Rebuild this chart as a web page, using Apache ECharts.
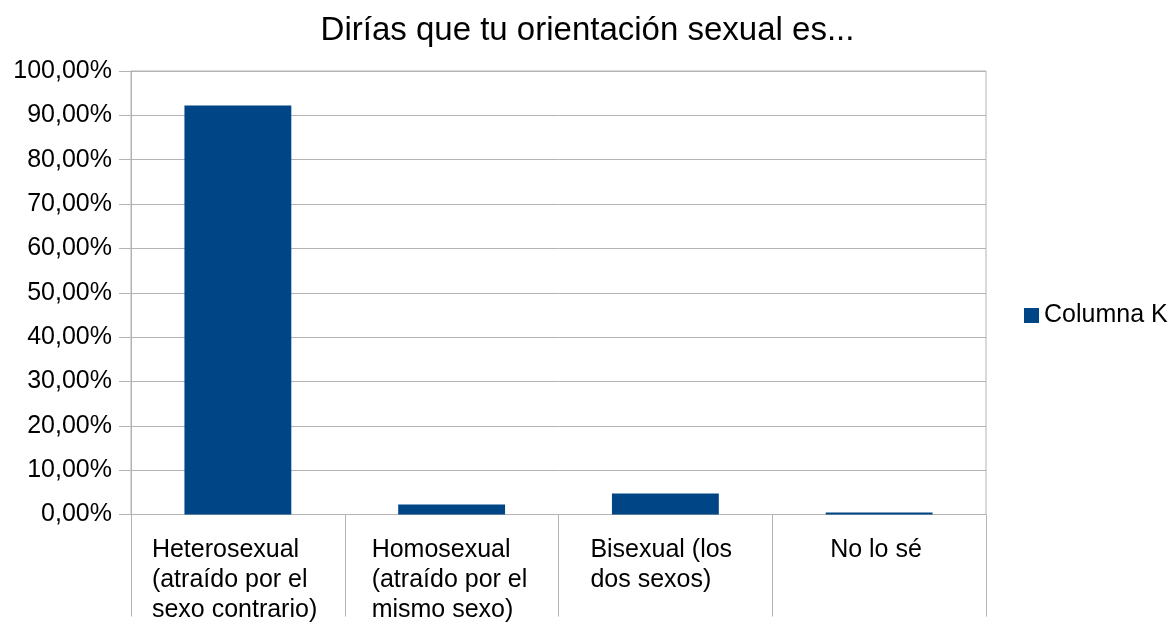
<!DOCTYPE html>
<html>
<head>
<meta charset="utf-8">
<script src="https://cdn.jsdelivr.net/npm/echarts@6/dist/echarts.min.js"></script>
<style>
html,body{margin:0;padding:0;background:#fff;}
#chart{width:1175px;height:623px;}
</style>
</head>
<body>
<div id="chart"></div>
<script>
var categories = [
    ['Heterosexual', '(atraído por el', 'sexo contrario)'],
    ['Homosexual', '(atraído por el', 'mismo sexo)'],
    ['Bisexual (los', 'dos sexos)'],
    ['No lo sé']
];
var values = [0.922, 0.0225, 0.0473, 0.0045];
var yTicks = [0, 0.1, 0.2, 0.3, 0.4, 0.5, 0.6, 0.7, 0.8, 0.9, 1];

// label block widths so lines stay left aligned inside a centred block
var labelWidths = [172, 160, 150, 98];
var rich = {};
labelWidths.forEach(function (w, i) {
    rich['r' + i] = {width: w, align: 'left', fontSize: 25, lineHeight: 30, color: '#000', fontFamily: 'Liberation Sans'};
});

var chart = echarts.init(document.getElementById('chart'));
chart.setOption({
    backgroundColor: '#fff',
    animation: false,
    title: {
        text: 'Dirías que tu orientación sexual es...',
        left: 'center',
        top: 9,
        textStyle: {fontFamily: 'Liberation Sans', fontSize: 33, fontWeight: 'normal', color: '#000'}
    },
    legend: {
        data: ['Columna K'],
        left: 1019,
        top: 298,
        icon: 'rect',
        itemWidth: 15,
        itemHeight: 15,
        itemGap: 8,
        textStyle: {fontFamily: 'Liberation Sans', fontSize: 25, color: '#000'}
    },
    grid: {
        left: 131, right: 189, top: 71, bottom: 108,
        show: true, borderColor: '#b3b3b3', borderWidth: 1
    },
    xAxis: {
        type: 'category',
        data: categories.map(function (c) { return c.join('\n'); }),
        boundaryGap: true,
        axisLine: {lineStyle: {color: '#b3b3b3'}},
        axisTick: {show: true, length: 102, lineStyle: {color: '#b3b3b3'}},
        axisLabel: {
            interval: 0,
            margin: 21,
            formatter: function (v, i) {
                return v.split('\n').map(function (s) { return '{r' + i + '|' + s + '}'; }).join('\n');
            },
            rich: rich
        }
    },
    yAxis: {
        type: 'value',
        min: yTicks[0],
        max: yTicks[yTicks.length - 1],
        interval: 0.1,
        axisLine: {show: true, lineStyle: {color: '#b3b3b3'}},
        axisTick: {show: true, length: 12, lineStyle: {color: '#b3b3b3'}},
        splitLine: {lineStyle: {color: '#b3b3b3'}},
        axisLabel: {
            margin: 19,
            fontFamily: 'Liberation Sans',
            fontSize: 25,
            color: '#000',
            formatter: function (v) { return (v * 100).toFixed(2).replace('.', ',') + '%'; }
        }
    },
    series: [{
        name: 'Columna K',
        type: 'bar',
        barWidth: '50%',
        itemStyle: {color: '#004586'},
        data: values
    }]
});
</script>
</body>
</html>
